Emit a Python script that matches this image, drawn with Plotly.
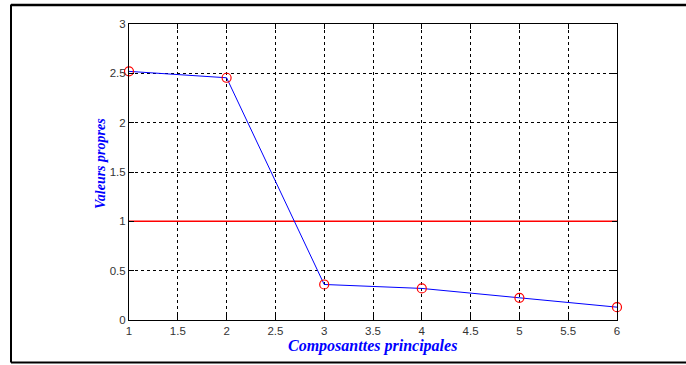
import plotly.graph_objects as go

components = [1, 2, 3, 4, 5, 6]
eigenvalues = [2.52, 2.455, 0.36, 0.32, 0.225, 0.13]
threshold_x = [1, 6]
threshold_y = [1, 1]
x_ticks = [1, 1.5, 2, 2.5, 3, 3.5, 4, 4.5, 5, 5.5, 6]
y_ticks = [0, 0.5, 1, 1.5, 2, 2.5, 3]

fig = go.Figure()
fig.add_trace(go.Scatter(x=threshold_x, y=threshold_y, mode="lines",
                         line=dict(color="#ff0000", width=1.5), showlegend=False))
fig.add_trace(go.Scatter(x=components, y=eigenvalues, mode="lines+markers",
                         line=dict(color="#0000ff", width=1),
                         marker=dict(symbol="circle-open", size=9, color="#ff0000",
                                     line=dict(width=1.2, color="#ff0000")),
                         cliponaxis=False, showlegend=False))

L, R, T, B = 129, 69, 24, 45
W, H = 686, 365
pw, ph = W - L - R, H - T - B

axis_common = dict(showline=True, linecolor="black", linewidth=1, mirror="ticks",
                   ticks="inside", ticklen=5, tickcolor="black",
                   showgrid=True, gridcolor="black", gridwidth=1, griddash="3px,3px",
                   zeroline=False,
                   tickfont=dict(family="Liberation Sans, Arial", size=11.5, color="#333"))

fig.update_xaxes(range=[1, 6], tickvals=x_ticks, ticktext=[f"{v:g}" for v in x_ticks],
                 **axis_common)
fig.update_yaxes(range=[0, 3], tickvals=y_ticks, ticktext=[f"{v:g}" for v in y_ticks],
                 **axis_common)

fig.add_annotation(text="<b><i>Composanttes principales</i></b>",
                   xref="paper", yref="paper", x=(372 - L) / pw, y=(320 - 346) / ph,
                   showarrow=False, xanchor="center", yanchor="middle",
                   font=dict(family="Liberation Serif, Times New Roman", size=16, color="#0000ff"))

fig.add_annotation(text="<b><i>Valeurs propres</i></b>", textangle=-90,
                   xref="paper", yref="paper", x=(100 - L) / pw, y=(320 - 164) / ph,
                   showarrow=False, xanchor="center", yanchor="middle",
                   font=dict(family="Liberation Serif, Times New Roman", size=14, color="#0000ff"))

# outer frame: left, bottom and top edges (right edge lies beyond the window)
fig.add_shape(type="line", xref="paper", yref="paper",
              x0=(11 - L) / pw, x1=(11 - L) / pw,
              y0=(320 - 362.5) / ph, y1=(320 - 4.5) / ph,
              line=dict(color="black", width=2))
fig.add_shape(type="line", xref="paper", yref="paper",
              x0=(11 - L) / pw, x1=(700 - L) / pw,
              y0=(320 - 362.5) / ph, y1=(320 - 362.5) / ph,
              line=dict(color="black", width=2))
fig.add_shape(type="line", xref="paper", yref="paper",
              x0=(11 - L) / pw, x1=(700 - L) / pw,
              y0=(320 - 5) / ph, y1=(320 - 5) / ph,
              line=dict(color="black", width=2.5))

fig.update_layout(width=W, height=H, margin=dict(l=L, r=R, t=T, b=B),
                  plot_bgcolor="white", paper_bgcolor="white")

fig.write_html("out.html", config={"displayModeBar": False},
               post_script="document.body.style.margin='0';document.body.style.overflow='hidden';")
